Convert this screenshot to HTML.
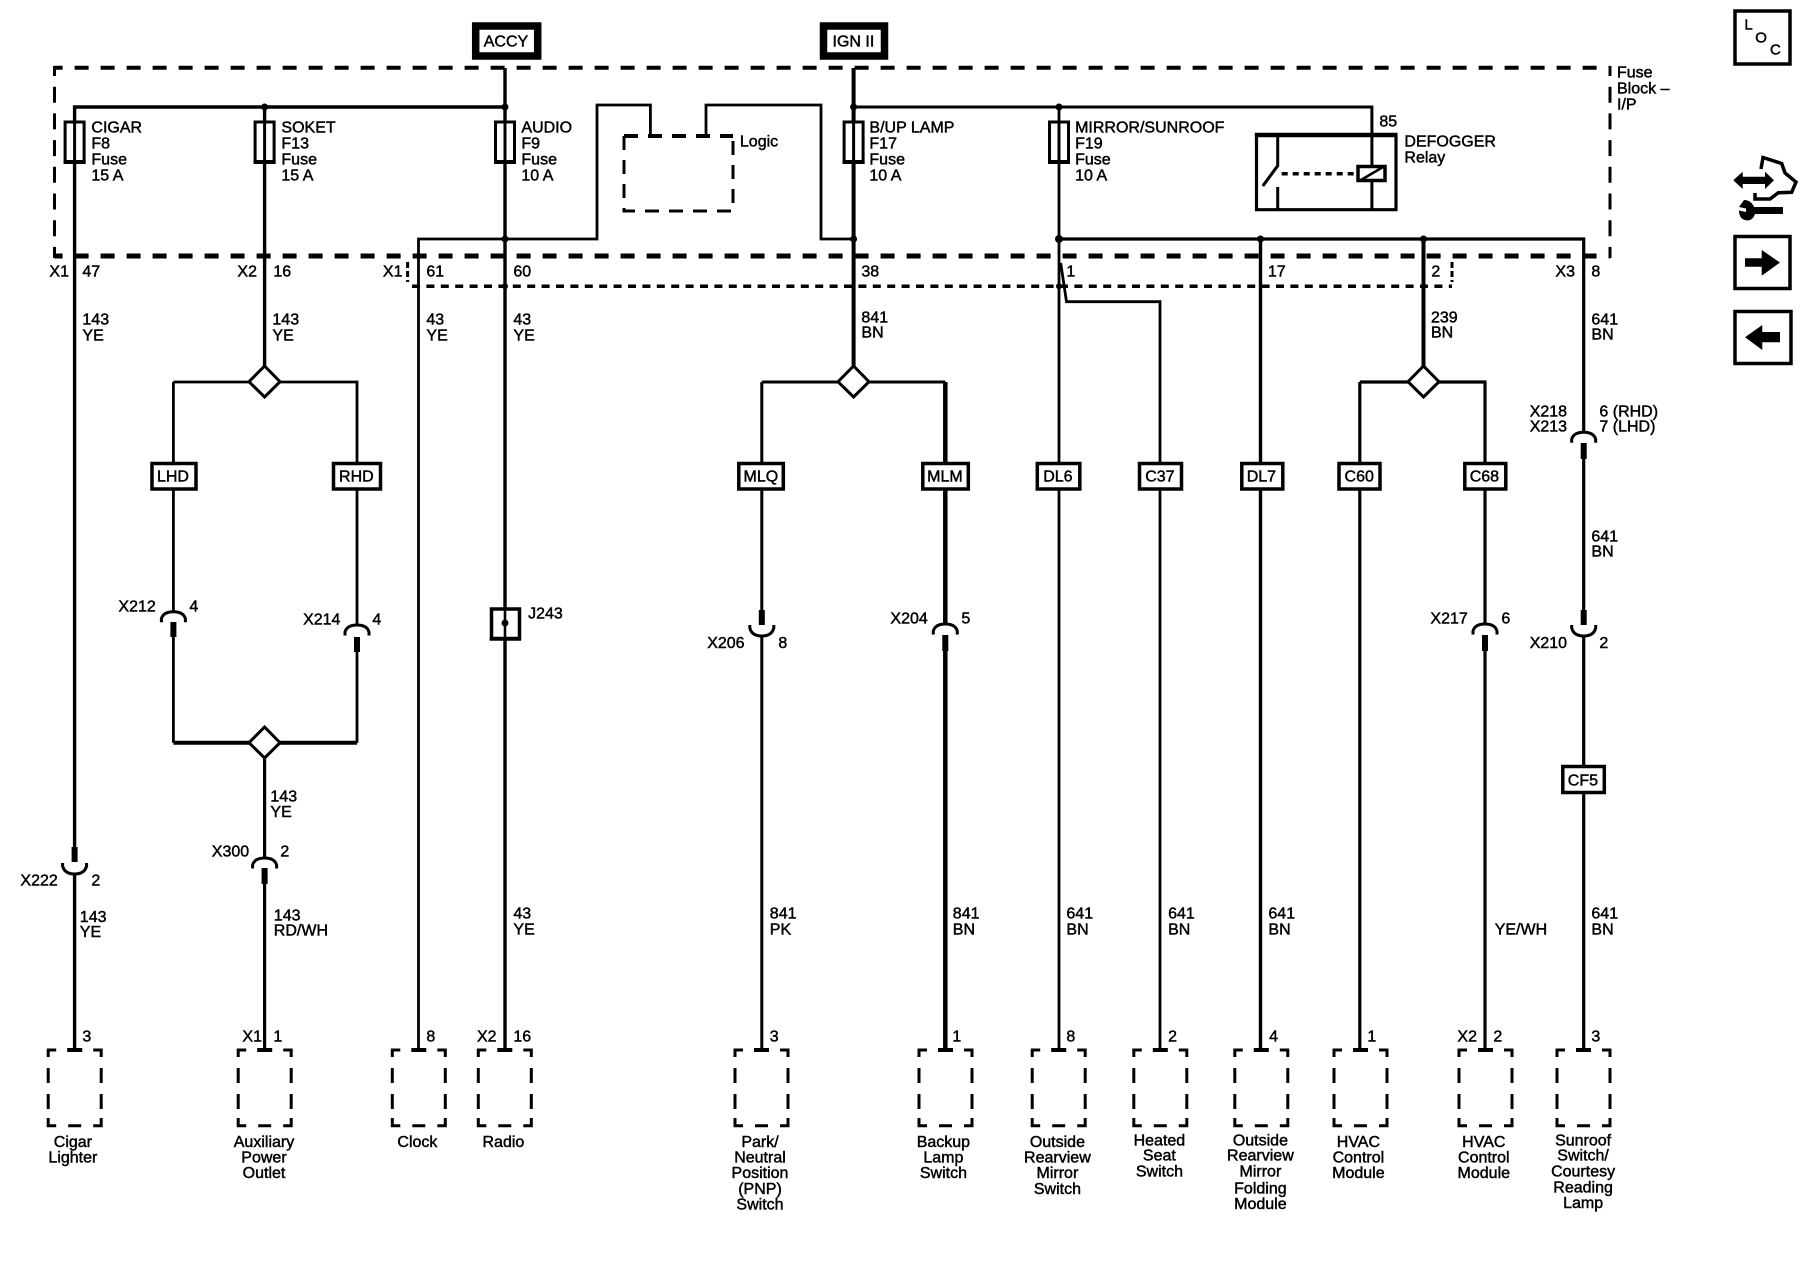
<!DOCTYPE html>
<html><head><meta charset="utf-8"><style>
html,body{margin:0;padding:0;background:#fff;width:1800px;height:1280px;overflow:hidden}
svg{display:block}
text{font-family:"Liberation Sans",sans-serif;font-size:16px;fill:#000;stroke:#000;stroke-width:.45px;transform:translate(-.6px,-.4px)}
.m{text-anchor:middle}
.w{fill:none;stroke:#000;stroke-linejoin:miter}
</style></head><body>
<svg width="1800" height="1280" viewBox="0 0 1800 1280" xmlns="http://www.w3.org/2000/svg">
<defs>
<g id="db" fill="none" stroke="#000" stroke-width="3">
<path d="M0,7V0H8M45,0H53V7M0,18V33M0,44V59M53,18V33M53,44V59M0,68V75.7H8M20,75.7H33M45,75.7H53V68"/>
<path d="M19,0H34" stroke-width="4"/>
</g>
<g id="ar" fill="none" stroke="#000" stroke-width="3"><path d="M-12,10.5V7Q-10,0 0,0Q10,0 12,7V10.5"/></g>
<g id="ur" fill="none" stroke="#000" stroke-width="3"><path d="M-12,0V3Q-10,11 0,11Q10,11 12,3V0"/></g>
<g id="fu" fill="#fff" stroke="#000"><rect x="-9.5" y="122" width="19" height="40" stroke-width="3"/><path d="M-11,162H11" stroke-width="4"/><path d="M0,122V162" stroke-width="3"/></g>
</defs>

<!-- fuse block dashed frame -->
<g class="w">
<path d="M54.5,67.7H1610" stroke-width="4" stroke-dasharray="14 12" stroke-dashoffset="5.9"/>
<path d="M54.5,256H1610" stroke-width="5" stroke-dasharray="14 12" stroke-dashoffset="5.9"/>
<path d="M54.5,66V258" stroke-width="3" stroke-dasharray="16 10.7" stroke-dashoffset="6"/>
<path d="M1610,66V258" stroke-width="3" stroke-dasharray="16 10.7" stroke-dashoffset="6"/>
<path d="M412,286.3H1452" stroke-width="3.5" stroke-dasharray="8 6.4"/>
<path d="M407.6,262V282M1452,262V282" stroke-width="3" stroke-dasharray="6 3"/>
</g>

<!-- logic box -->
<g class="w">
<path d="M624,136V211H733V136" stroke-width="3" stroke-dasharray="14 10"/>
<path d="M624,136H733" stroke-width="4" stroke-dasharray="14 10"/>
</g>

<!-- wires -->
<g class="w">
<path d="M505,68V1050" stroke-width="3.4"/>
<path d="M853.6,68V382" stroke-width="4"/>
<path d="M74.6,1050V873M74.6,848V107H505" stroke-width="3.4"/>
<path d="M264.6,107V382" stroke-width="3.4"/>
<path d="M264.6,742V858M264.6,884V1050" stroke-width="3.2"/>
<path d="M418.5,1050V239H597V105H650.4V135" stroke-width="2.8"/>
<path d="M706,135V105H821V239H853.6" stroke-width="2.8"/>
<path d="M853.6,107H1371.9V211" stroke-width="3"/>
<path d="M1059,107V1050" stroke-width="2.8"/>
<path d="M1059,239H1583.7V432M1583.7,459V610M1583.7,635V1050" stroke-width="3.2"/>
<path d="M1060.7,263L1066.5,301.7H1160V1050" stroke-width="2.8"/>
<path d="M1260.5,239V1050" stroke-width="3.4"/>
<path d="M1423.5,239V382" stroke-width="4"/>
<path d="M173.4,382H357V625M357,651V742.7M173.4,382V612M173.4,637V742.7" stroke-width="2.8"/>
<path d="M173.4,742.7H357" stroke-width="4"/>
<path d="M761.8,382V610M761.8,635V1050M761.8,382H945.3" stroke-width="3"/>
<path d="M945.3,382V624M945.3,651V1050" stroke-width="4.5"/>
<path d="M1359.8,382V1050M1359.8,382H1485V624M1485,651V1050" stroke-width="3.2"/>
</g>

<!-- thick connector stubs -->
<g class="w" stroke-width="6">
<path d="M173.4,622V637M357,637V652M761.8,610V625M945.3,635V651M1485,635V651M1583.7,443V459M1583.7,610V625M74.6,847V862M264.6,868V884"/>
</g>
<use href="#ar" x="173.4" y="611.7"/>
<use href="#ar" x="357" y="625"/>
<use href="#ur" x="761.8" y="625"/>
<use href="#ar" x="945.3" y="624"/>
<use href="#ar" x="1485" y="624"/>
<use href="#ar" x="1583.7" y="432.3"/>
<use href="#ur" x="1583.7" y="625"/>
<use href="#ur" x="74.6" y="863"/>
<use href="#ar" x="264.6" y="858"/>

<!-- fuses -->
<use href="#fu" x="74.6"/><use href="#fu" x="264.6"/><use href="#fu" x="505"/><use href="#fu" x="853.6"/><use href="#fu" x="1059"/>

<!-- junction dots -->
<g fill="#000">
<circle cx="264.6" cy="107" r="3.5"/><circle cx="505" cy="107" r="3.5"/><circle cx="505" cy="239" r="3.5"/>
<circle cx="853.6" cy="107" r="3.5"/><circle cx="853.6" cy="239" r="3.5"/><circle cx="1059" cy="107" r="3.5"/>
<circle cx="1059" cy="239" r="4"/><circle cx="1260.5" cy="239" r="3.5"/><circle cx="1423.5" cy="239" r="3.5"/>
<circle cx="505" cy="286.3" r="3"/><circle cx="1059" cy="286.3" r="3"/>
</g>

<!-- diamonds -->
<g fill="#fff" stroke="#000" stroke-width="3">
<path d="M264.6,366L280,381.7L264.6,397L249,381.7Z"/>
<path d="M853.6,366L869,381.7L853.6,397L838,381.7Z"/>
<path d="M1423.5,366L1439,381.7L1423.5,397L1408,381.7Z"/>
<path d="M264.6,727L280,742.7L264.6,758L249,742.7Z"/>
</g>

<!-- option boxes -->
<g fill="#fff" stroke="#000" stroke-width="3.5">
<rect x="152" y="463.5" width="44" height="25.5"/>
<rect x="333.5" y="463.5" width="47" height="25.5"/>
<rect x="738.8" y="463.5" width="44.5" height="25.5"/>
<rect x="922.8" y="463.5" width="45.5" height="25.5"/>
<rect x="1037.3" y="463.5" width="42.5" height="25.5"/>
<rect x="1139.5" y="463.5" width="42" height="25.5"/>
<rect x="1241.8" y="463.5" width="41" height="25.5"/>
<rect x="1339" y="463.5" width="41" height="25.5"/>
<rect x="1464.8" y="463.5" width="41" height="25.5"/>
<rect x="1562.8" y="766.5" width="41.5" height="26"/>
<rect x="491.5" y="609" width="28" height="29.5"/>
</g>
<path d="M489.7,639H521" stroke="#000" stroke-width="3.5"/>
<path d="M505,607V1050" stroke="#000" stroke-width="2.6"/>
<circle cx="505" cy="623" r="3.5" fill="#000"/>

<!-- power boxes -->
<rect x="475.7" y="26" width="62" height="30" fill="#fff" stroke="#000" stroke-width="7.5"/>
<rect x="823.5" y="26" width="61" height="30" fill="#fff" stroke="#000" stroke-width="7.5"/>

<!-- relay -->
<g class="w">
<path d="M1254.8,135H1397.5" stroke-width="4.5"/>
<path d="M1256.5,135V209.7H1396V135" stroke-width="3.2"/>
<path d="M1277.7,135V165.7L1262.8,186M1277.7,187V211" stroke-width="3"/>
<path d="M1281.7,173.7H1356" stroke-width="3.5" stroke-dasharray="6 5"/>
</g>
<rect x="1358" y="166.5" width="27" height="14" fill="#fff" stroke="#000" stroke-width="3.5"/>
<path d="M1361,180L1383,167" stroke="#000" stroke-width="2.5"/>

<!-- dashed component boxes -->
<use href="#db" x="48.2" y="1050"/><use href="#db" x="238.2" y="1050"/><use href="#db" x="392.3" y="1050"/>
<use href="#db" x="478.3" y="1050"/><use href="#db" x="735" y="1050"/><use href="#db" x="919" y="1050"/>
<use href="#db" x="1032.2" y="1050"/><use href="#db" x="1133.8" y="1050"/><use href="#db" x="1234.8" y="1050"/>
<use href="#db" x="1334" y="1050"/><use href="#db" x="1459" y="1050"/><use href="#db" x="1557" y="1050"/>

<!-- top labels -->
<text x="506.6" y="46.7" class="m">ACCY</text>
<text x="854" y="46.7" class="m">IGN II</text>
<text x="92" y="133">CIGAR</text><text x="92" y="149">F8</text><text x="92" y="165">Fuse</text><text x="92" y="181">15 A</text>
<text x="282" y="133">SOKET</text><text x="282" y="149">F13</text><text x="282" y="165">Fuse</text><text x="282" y="181">15 A</text>
<text x="522" y="133">AUDIO</text><text x="522" y="149">F9</text><text x="522" y="165">Fuse</text><text x="522" y="181">10 A</text>
<text x="870" y="133">B/UP LAMP</text><text x="870" y="149">F17</text><text x="870" y="165">Fuse</text><text x="870" y="181">10 A</text>
<text x="1075.7" y="133">MIRROR/SUNROOF</text><text x="1075.7" y="149">F19</text><text x="1075.7" y="165">Fuse</text><text x="1075.7" y="181">10 A</text>
<text x="740.5" y="146.7">Logic</text>
<text x="1380" y="127">85</text>
<text x="1405" y="146.7">DEFOGGER</text><text x="1405" y="162.7">Relay</text>
<text x="1617.6" y="78">Fuse</text><text x="1617.6" y="94">Block –</text><text x="1617.6" y="110">I/P</text>

<!-- pin row -->
<g>
<text x="50" y="276.7">X1</text><text x="83" y="276.7">47</text>
<text x="238" y="276.7">X2</text><text x="274" y="276.7">16</text>
<text x="383.5" y="276.7">X1</text><text x="427" y="276.7">61</text>
<text x="514" y="276.7">60</text><text x="862" y="276.7">38</text>
<text x="1067" y="276.7">1</text><text x="1268.5" y="276.7">17</text><text x="1432" y="276.7">2</text>
<text x="1556" y="276.7">X3</text><text x="1592" y="276.7">8</text>
</g>

<!-- wire labels upper -->
<text x="83" y="325">143</text><text x="83" y="340.7">YE</text>
<text x="273" y="325">143</text><text x="273" y="340.7">YE</text>
<text x="427" y="325">43</text><text x="427" y="340.7">YE</text>
<text x="514" y="325">43</text><text x="514" y="340.7">YE</text>
<text x="862" y="322.7">841</text><text x="862" y="338">BN</text>
<text x="1431.6" y="322.7">239</text><text x="1431.6" y="338">BN</text>
<text x="1592" y="325">641</text><text x="1592" y="340">BN</text>

<!-- box labels -->
<text x="173.6" y="481.7" class="m">LHD</text><text x="357" y="481.7" class="m">RHD</text>
<text x="761.5" y="481.7" class="m">MLQ</text><text x="945.5" y="481.7" class="m">MLM</text>
<text x="1058.5" y="481.7" class="m">DL6</text><text x="1160.5" y="481.7" class="m">C37</text>
<text x="1262" y="481.7" class="m">DL7</text><text x="1359.8" y="481.7" class="m">C60</text>
<text x="1485" y="481.7" class="m">C68</text><text x="1583.5" y="785.7" class="m">CF5</text>

<!-- connector labels -->
<text x="119" y="611.7">X212</text><text x="190" y="611.7">4</text>
<text x="303.7" y="625">X214</text><text x="373" y="625">4</text>
<text x="528.7" y="619">J243</text>
<text x="707.8" y="648.3">X206</text><text x="779" y="648.3">8</text>
<text x="891" y="624">X204</text><text x="962" y="624">5</text>
<text x="1431" y="624">X217</text><text x="1502" y="624">6</text>
<text x="1530.3" y="416.7">X218</text><text x="1530.3" y="431.7">X213</text>
<text x="1600" y="416.7">6 (RHD)</text><text x="1600" y="431.7">7 (LHD)</text>
<text x="1592" y="541.7">641</text><text x="1592" y="556.7">BN</text>
<text x="1530.3" y="648.3">X210</text><text x="1600" y="648.3">2</text>
<text x="271" y="801.7">143</text><text x="271" y="817.3">YE</text>
<text x="21" y="885.7">X222</text><text x="92" y="885.7">2</text>
<text x="212.4" y="856.7">X300</text><text x="281" y="856.7">2</text>

<!-- wire labels lower -->
<text x="80.4" y="922.3">143</text><text x="80.4" y="937.3">YE</text>
<text x="274.4" y="920.7">143</text><text x="274.4" y="935.7">RD/WH</text>
<text x="514" y="919">43</text><text x="514" y="934.7">YE</text>
<text x="770.4" y="919">841</text><text x="770.4" y="934.7">PK</text>
<text x="953.4" y="919">841</text><text x="953.4" y="934.7">BN</text>
<text x="1067" y="919">641</text><text x="1067" y="934.7">BN</text>
<text x="1168.7" y="919">641</text><text x="1168.7" y="934.7">BN</text>
<text x="1269" y="919">641</text><text x="1269" y="934.7">BN</text>
<text x="1495.3" y="934.7">YE/WH</text>
<text x="1592" y="919">641</text><text x="1592" y="934.7">BN</text>

<!-- bottom pins -->
<text x="83" y="1041.7">3</text><text x="243" y="1041.7">X1</text><text x="274" y="1041.7">1</text>
<text x="427" y="1041.7">8</text><text x="477.6" y="1041.7">X2</text><text x="514" y="1041.7">16</text>
<text x="770.4" y="1041.7">3</text><text x="953" y="1041.7">1</text><text x="1067" y="1041.7">8</text>
<text x="1168.7" y="1041.7">2</text><text x="1269.7" y="1041.7">4</text><text x="1368" y="1041.7">1</text>
<text x="1458" y="1041.7">X2</text><text x="1494" y="1041.7">2</text><text x="1592" y="1041.7">3</text>

<!-- component names -->
<g>
<text class="m" x="73.5" y="1147.3">Cigar</text><text class="m" x="73.5" y="1162.7">Lighter</text>
<text class="m" x="264.6" y="1147.3">Auxiliary</text><text class="m" x="264.6" y="1162.7">Power</text><text class="m" x="264.6" y="1178.3">Outlet</text>
<text class="m" x="418" y="1147.3">Clock</text>
<text class="m" x="504" y="1147.3">Radio</text>
<text class="m" x="760.6" y="1147.3">Park/</text><text class="m" x="760.6" y="1162.7">Neutral</text><text class="m" x="760.6" y="1178.3">Position</text><text class="m" x="760.6" y="1194.3">(PNP)</text><text class="m" x="760.6" y="1210">Switch</text>
<text class="m" x="944" y="1147.3">Backup</text><text class="m" x="944" y="1162.7">Lamp</text><text class="m" x="944" y="1178.3">Switch</text>
<text class="m" x="1058" y="1147.3">Outside</text><text class="m" x="1058" y="1162.7">Rearview</text><text class="m" x="1058" y="1178.3">Mirror</text><text class="m" x="1058" y="1194.3">Switch</text>
<text class="m" x="1160" y="1145.7">Heated</text><text class="m" x="1160" y="1161">Seat</text><text class="m" x="1160" y="1176.7">Switch</text>
<text class="m" x="1261" y="1145.7">Outside</text><text class="m" x="1261" y="1161">Rearview</text><text class="m" x="1261" y="1176.7">Mirror</text><text class="m" x="1261" y="1194">Folding</text><text class="m" x="1261" y="1209.3">Module</text>
<text class="m" x="1359" y="1147.3">HVAC</text><text class="m" x="1359" y="1162.7">Control</text><text class="m" x="1359" y="1178.3">Module</text>
<text class="m" x="1484.4" y="1147.3">HVAC</text><text class="m" x="1484.4" y="1162.7">Control</text><text class="m" x="1484.4" y="1178.3">Module</text>
<text class="m" x="1583.7" y="1145.7">Sunroof</text><text class="m" x="1583.7" y="1161">Switch/</text><text class="m" x="1583.7" y="1176.7">Courtesy</text><text class="m" x="1583.7" y="1192.7">Reading</text><text class="m" x="1583.7" y="1208.3">Lamp</text>
</g>

<!-- right side icons -->
<g fill="none" stroke="#000" stroke-width="3.5">
<rect x="1735" y="11" width="55" height="53"/>
<rect x="1735" y="236.5" width="55" height="52"/>
<rect x="1735" y="311.5" width="56" height="52"/>
<path d="M1761,169L1763,157.5L1781.7,163.5L1785,173L1796,182L1791.7,192.3L1778.3,192.7L1770,199H1755V193" stroke-width="3.5"/>
</g>
<text x="1745" y="30" style="font-size:15px">L</text>
<text x="1761.7" y="43" class="m" style="font-size:15px">O</text>
<text x="1776" y="55" class="m" style="font-size:15px">C</text>
<g fill="#000">
<path d="M1745,258.3H1761.7V250L1780,262.5L1761.7,275.7V266.7H1745Z"/>
<path d="M1745,337.3L1762.3,325V332H1780V342.3H1762.3V350Z"/>
<path d="M1733.3,180.3L1742.7,171.7V176.7H1765V171.7L1774,180.3L1765,189V184H1742.7V189Z"/>
<path d="M1783,207H1754Q1751,200 1744,200L1739,207L1746,208.5V212L1739,210.5Q1739,220 1748,220.5Q1753,220 1755,214H1783Z"/>
</g>
</svg>
</body></html>
